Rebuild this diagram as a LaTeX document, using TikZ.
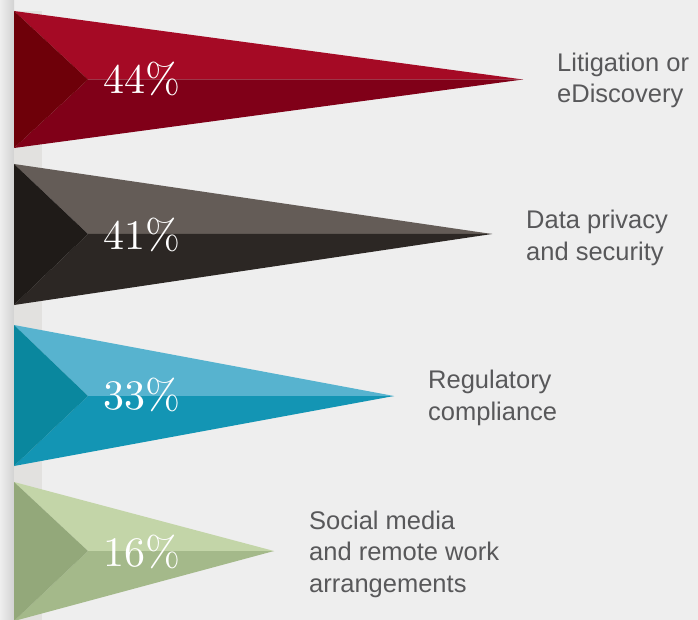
\documentclass[tikz,border=0pt]{standalone}
\usepackage{fontspec}
\newfontfamily\labelfont{Liberation Sans}
\newfontfamily\pctfont{lmroman10-regular.otf}
\definecolor{bg}{HTML}{EEEEEE}
\definecolor{barc}{HTML}{E2E1DF}
\definecolor{shad}{HTML}{D2D2D2}
\definecolor{txt}{HTML}{58585A}
\definecolor{rL}{HTML}{6E0009}\definecolor{rU}{HTML}{A50A25}\definecolor{rD}{HTML}{800018}
\definecolor{gL}{HTML}{1F1B18}\definecolor{gU}{HTML}{645C57}\definecolor{gD}{HTML}{2C2724}
\definecolor{bL}{HTML}{0A879E}\definecolor{bU}{HTML}{57B3CF}\definecolor{bD}{HTML}{1395B4}
\definecolor{vL}{HTML}{93A87A}\definecolor{vU}{HTML}{C3D5A8}\definecolor{vD}{HTML}{A4B98A}
\tikzset{
  pct/.style={anchor=base west, inner sep=0pt, text=white, font=\pctfont\fontsize{42}{42}\selectfont},
  lbl/.style={anchor=base west, inner sep=0pt, text=txt, align=left,
     font=\labelfont\fontsize{25.5}{31.5}\selectfont},
}
% #1 top y, #2 bottom y, #3 mid y, #4 tip x, colors #5 left #6 upper #7 lower
\newcommand{\bevelarrow}[7]{%
  \fill[#6] (14,#1) -- (#4,#3) -- (88,#3) -- cycle;
  \fill[#7] (14,#2) -- (#4,#3) -- (88,#3) -- cycle;
  \fill[#5] (14,#1) -- (88,#3) -- (14,#2) -- cycle;
}
\begin{document}
\begin{tikzpicture}[x=1pt,y=-1pt]
\fill[bg] (0,0) rectangle (698,620);
\useasboundingbox (0,0) rectangle (698,620);
\shade[left color=bg, right color=shad] (0,0) rectangle (14,620);
\fill[barc] (14,11) rectangle (42,620);
\bevelarrow{11}{148}{79.5}{523}{rL}{rU}{rD}
\bevelarrow{164}{305}{234}{492}{gL}{gU}{gD}
\bevelarrow{325}{466}{396}{394}{bL}{bU}{bD}
\bevelarrow{482}{621}{551}{274}{vL}{vU}{vD}
\node[pct] (p1) at (103,94) {44\%};
\node[pct] (p2) at (103,249) {41\%};
\node[pct] (p3) at (103,409) {33\%};
\node[pct] (p4) at (103,566) {16\%};
\node[lbl] (l1) at (557,103) {Litigation or\\eDiscovery};
\node[lbl] (l2) at (526,260) {Data privacy\\and security};
\node[lbl] (l3) at (428,420) {Regulatory\\compliance};
\node[lbl] (l4) at (309,592) {Social media\\and remote work\\arrangements};
\end{tikzpicture}
\end{document}
